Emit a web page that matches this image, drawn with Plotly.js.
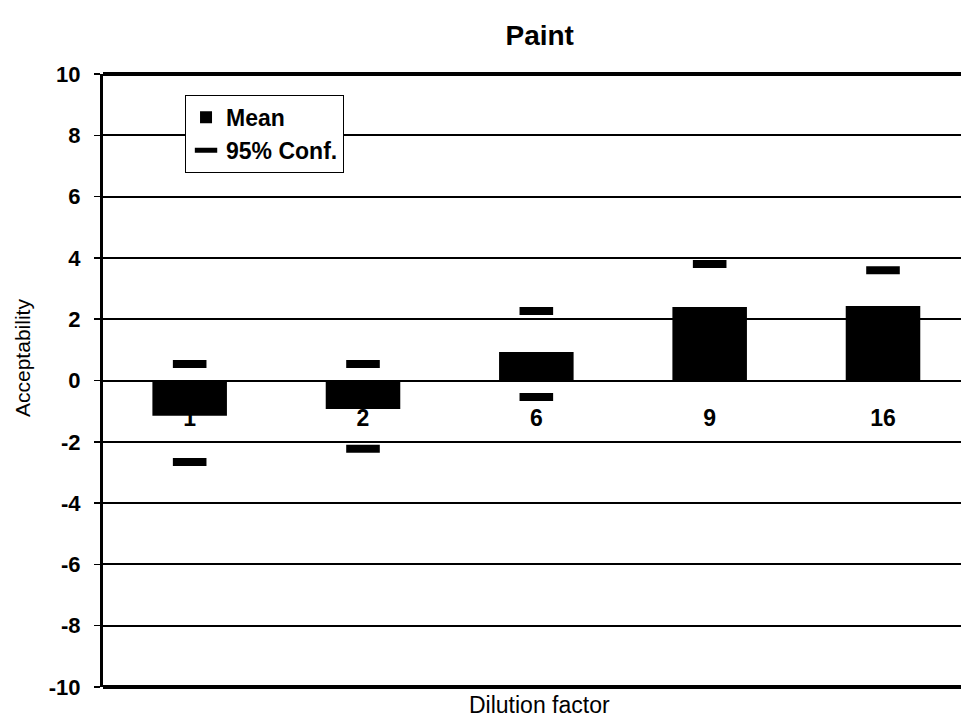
<!DOCTYPE html>
<html>
<head>
<meta charset="utf-8">
<script src="https://cdn.plot.ly/plotly-3.0.1.min.js"></script>
<style>
  html, body { margin: 0; padding: 0; background: #ffffff; }
  #chart { width: 961px; height: 722px; }
</style>
</head>
<body>
<div id="chart"></div>
<script>
// ---- Data ----
var categories = ['1', '2', '6', '9', '16'];
var meanValues = [-1.15, -0.93, 0.93, 2.40, 2.43];
var confUpper  = [0.54, 0.54, 2.27, 3.80, 3.60];
var confLower  = [-2.66, -2.23, -0.54, 1.00, 1.26];
var yTickVals  = [-10, -8, -6, -4, -2, 0, 2, 4, 6, 8, 10];
var chartTitle = 'Paint';
var xTitle = 'Dilution factor';
var yTitle = 'Acceptability';

var FONT = '"Liberation Sans", Arial, Helvetica, sans-serif';

var barTrace = {
  type: 'bar',
  name: 'Mean',
  x: categories,
  y: meanValues,
  width: 0.43,
  marker: { color: '#000000', line: { width: 0 } },
  hoverinfo: 'x+y'
};

var confTrace = {
  type: 'scatter',
  mode: 'markers',
  name: '95% Conf.',
  x: categories.concat(categories),
  y: confUpper.concat(confLower),
  marker: {
    symbol: 'line-ew-open',
    size: 24,
    color: '#000000',
    line: { color: '#000000', width: 8 }
  },
  hoverinfo: 'x+y'
};

var layout = {
  width: 961,
  height: 722,
  margin: { l: 103, r: 0, t: 74, b: 35, pad: 0 },
  paper_bgcolor: '#ffffff',
  plot_bgcolor: '#ffffff',
  font: { family: FONT, color: '#000000' },
  showlegend: true,
  title: {
    text: '<b>' + chartTitle + '</b>',
    font: { family: FONT, size: 28, color: '#000000' },
    xref: 'paper',
    x: 0.509,
    xanchor: 'center',
    yref: 'container',
    y: 1 - 35 / 722,
    yanchor: 'middle'
  },
  xaxis: {
    type: 'category',
    categoryorder: 'array',
    categoryarray: categories,
    range: [-0.5, 4.45],
    anchor: 'free',
    position: 0.5,
    showline: false,
    showgrid: false,
    zeroline: false,
    ticks: '',
    ticklabelstandoff: 21,
    tickfont: { family: FONT, size: 23, color: '#000000', weight: 'bold' },
    layer: 'below traces',
    fixedrange: true
  },
  yaxis: {
    range: [-10, 10],
    tickvals: yTickVals,
    ticktext: yTickVals.map(String),
    showgrid: true,
    gridcolor: '#000000',
    gridwidth: 2,
    zeroline: true,
    zerolinecolor: '#000000',
    zerolinewidth: 2,
    showline: true,
    linecolor: '#000000',
    linewidth: 3,
    ticks: 'outside',
    ticklen: 6,
    tickwidth: 1.5,
    tickcolor: '#000000',
    ticklabelstandoff: 9,
    tickfont: { family: FONT, size: 22, color: '#000000', weight: 'bold' },
    fixedrange: true
  },
  legend: {
    x: 0.0956,
    y: 0.966,
    xanchor: 'left',
    yanchor: 'top',
    bgcolor: '#ffffff',
    bordercolor: '#000000',
    borderwidth: 1,
    itemwidth: 30,
    tracegroupgap: 4,
    font: { family: FONT, size: 23, color: '#000000', weight: 'bold' }
  },
  shapes: [
    { type: 'line', xref: 'paper', yref: 'paper', x0: 0, x1: 1, y0: 1, y1: 1,
      line: { color: '#000000', width: 4 } },
    { type: 'line', xref: 'paper', yref: 'paper', x0: 0, x1: 1, y0: 0, y1: 0,
      line: { color: '#000000', width: 4 } }
  ],
  annotations: [
    {
      text: xTitle,
      xref: 'paper', yref: 'paper',
      x: 0.509, y: -18 / 613,
      xanchor: 'center', yanchor: 'middle',
      showarrow: false,
      font: { family: FONT, size: 23, color: '#000000' }
    },
    {
      text: yTitle,
      xref: 'paper', yref: 'paper',
      x: -81 / 858, y: (687 - 358) / 613,
      xanchor: 'center', yanchor: 'middle',
      textangle: -90,
      showarrow: false,
      font: { family: FONT, size: 21, color: '#000000' }
    }
  ]
};

Plotly.newPlot('chart', [barTrace, confTrace], layout, { displayModeBar: false, staticPlot: true });
</script>
</body>
</html>
